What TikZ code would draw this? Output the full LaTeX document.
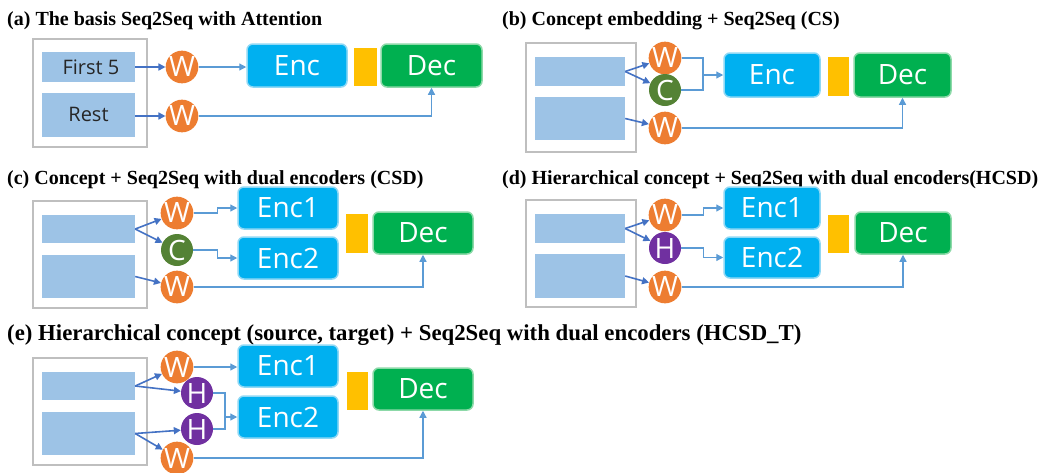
\documentclass[tikz,border=0pt]{standalone}
\usepackage{fontspec}
\setmainfont{Liberation Serif}
\newfontfamily\boxfont{Open Sans}
\usepackage{tikz}
\usetikzlibrary{arrows.meta, positioning, calc}
\definecolor{framegray}{HTML}{BFBFBF}
\definecolor{segblue}{HTML}{9DC3E6}
\definecolor{worange}{HTML}{ED7D31}
\definecolor{cgreen}{HTML}{548235}
\definecolor{hpurple}{HTML}{7030A0}
\definecolor{encblue}{HTML}{00B0F0}
\definecolor{encedge}{HTML}{8FD8F5}
\definecolor{decgreen}{HTML}{00B050}
\definecolor{decedge}{HTML}{8CD9A8}
\definecolor{attyellow}{HTML}{FFC000}
\definecolor{arrdark}{HTML}{4472C4}
\definecolor{arrlight}{HTML}{5B9BD5}

\begin{document}
\begin{tikzpicture}[x=1pt, y=-1pt, >={Triangle[length=7pt,width=7pt]},
    paneltitle/.style={anchor=base west, inner sep=0, font=\fontsize{20}{22}\selectfont\bfseries},
    inbox/.style={draw=framegray, line width=2, fill=white, inner sep=0},
    seg/.style={fill=segblue, inner sep=0, text=black!85, font=\boxfont\fontsize{20}{22}\selectfont},
    circ/.style={circle, minimum size=32, inner sep=0, text=white, font=\boxfont\fontsize{28}{28}\selectfont},
    wn/.style={circ, fill=worange},
    cn/.style={circ, fill=cgreen},
    hn/.style={circ, fill=hpurple},
    enc/.style={rounded corners=6, fill=encblue, draw=encedge, line width=1.5, inner sep=0, text=white, font=\boxfont\fontsize{28}{28}\selectfont},
    dec/.style={enc, fill=decgreen, draw=decedge},
    att/.style={fill=attyellow, inner sep=0},
    inarr/.style={->, draw=arrdark, line width=1.6},
    outarr/.style={->, draw=arrlight, line width=1.2},
    outline/.style={draw=arrlight, line width=1.2}]
\useasboundingbox (0,0) rectangle (1042,472);

% (a) basis
\node[paneltitle] (a-t) at (7,25) {(a) The basis Seq2Seq with Attention};
\node[inbox, minimum width=114, minimum height=108] (a-box) at (90,93) {};
\node[seg, minimum width=93, minimum height=30] (a-r1) at (88.5,67) {\hspace*{5pt}First 5};
\node[seg, minimum width=93, minimum height=44] (a-r2) at (88.5,114.5) {Rest};
\node[wn] (a-w1) at (182,67) {W};
\node[wn] (a-w2) at (182,116) {W};
\node[enc, minimum width=100, minimum height=43] (a-enc) at (297,65.5) {Enc};
\node[att, minimum width=23, minimum height=38] (a-att) at (365.5,67) {};
\node[dec, minimum width=101, minimum height=43] (a-dec) at (431.5,65.5) {Dec};
\draw[inarr] (a-r1.east) -- (a-w1);
\draw[inarr] (a-r2.east |- a-w2) -- (a-w2);
\draw[outarr] (a-w1) -- (a-w1 -| a-enc.west);
\draw[outarr] (a-w2) -| (a-dec.south);

% (b) CS
\node[paneltitle] (b-t) at (502,25) {(b) Concept embedding + Seq2Seq (CS)};
\node[inbox, minimum width=110, minimum height=109] (b-box) at (581,97.5) {};
\node[seg, minimum width=90, minimum height=29] (b-r1) at (580,71.5) {};
\node[seg, minimum width=90, minimum height=43] (b-r2) at (580,118.5) {};
\node[wn] (b-w1) at (665,58) {W};
\node[cn] (b-c) at (665,90) {C};
\node[wn] (b-w2) at (665,128) {W};
\node[enc, minimum width=96, minimum height=44] (b-enc) at (772,75) {Enc};
\node[att, minimum width=21, minimum height=39] (b-att) at (838.5,76.5) {};
\node[dec, minimum width=97, minimum height=44] (b-dec) at (902.5,75) {Dec};
\coordinate (b-j) at (703,75);
\draw[inarr] (b-r1.east) -- (b-w1);
\draw[inarr] (b-r1.east) -- (b-c);
\draw[inarr] (b-r2.east) -- (b-w2);
\draw[outline] (b-w1) -| (b-j) |- (b-c);
\draw[outarr] (b-j) -- (b-enc);
\draw[outarr] (b-w2) -| (b-dec.south);

% (c) CSD
\node[paneltitle] (c-t) at (7,184) {(c) Concept + Seq2Seq with dual encoders (CSD)};
\node[inbox, minimum width=114, minimum height=107] (c-box) at (90,254.5) {};
\node[seg, minimum width=93, minimum height=28] (c-r1) at (88.5,229) {};
\node[seg, minimum width=93, minimum height=43] (c-r2) at (88.5,276.5) {};
\node[wn] (c-w1) at (177,213) {W};
\node[cn] (c-c) at (177,250) {C};
\node[wn] (c-w2) at (177,287) {W};
\node[enc, minimum width=100, minimum height=42] (c-enc1) at (288,208) {Enc1};
\node[enc, minimum width=100, minimum height=42] (c-enc2) at (288,258) {Enc2};
\node[att, minimum width=22, minimum height=39] (c-att) at (357,233.5) {};
\node[dec, minimum width=100, minimum height=42] (c-dec) at (423,233) {Dec};
\draw[inarr] (c-r1.east) -- (c-w1);
\draw[inarr] (c-r1.east) -- (c-c);
\draw[inarr] (c-r2.east) -- (c-w2);
\draw[outarr] (c-w1.east) -- ++(24,0) |- (c-enc1.west);
\draw[outarr] (c-c.east) -- ++(24,0) |- (c-enc2.west);
\draw[outarr] (c-w2) -| (c-dec.south);

% (d) HCSD
\node[paneltitle] (d-t) at (502,184) {(d) Hierarchical concept + Seq2Seq with dual encoders(HCSD)};
\node[inbox, minimum width=110, minimum height=107] (d-box) at (581,253.5) {};
\node[seg, minimum width=90, minimum height=29] (d-r1) at (580,228.5) {};
\node[seg, minimum width=90, minimum height=44] (d-r2) at (580,276) {};
\node[wn] (d-w1) at (665,215) {W};
\node[hn] (d-h) at (665,248) {H};
\node[wn] (d-w2) at (665,287) {W};
\node[enc, minimum width=96, minimum height=42] (d-enc1) at (772,208) {Enc1};
\node[enc, minimum width=96, minimum height=41] (d-enc2) at (772,257.5) {Enc2};
\node[att, minimum width=21, minimum height=38] (d-att) at (838.5,234) {};
\node[dec, minimum width=96, minimum height=42] (d-dec) at (903,233) {Dec};
\draw[inarr] (d-r1.east) -- (d-w1);
\draw[inarr] (d-r1.east) -- (d-h);
\draw[inarr] (d-r2.east) -- (d-w2);
\draw[outarr] (d-w1.east) -- ++(22,0) |- (d-enc1.west);
\draw[outarr] (d-h.east) -- ++(22,0) |- (d-enc2.west);
\draw[outarr] (d-w2) -| (d-dec.south);

% (e) HCSD_T
\node[paneltitle, font=\fontsize{22.8}{24}\selectfont\bfseries] (e-t) at (7,340) {(e) Hierarchical concept (source, target) + Seq2Seq with dual encoders (HCSD\_T)};
\node[inbox, minimum width=114, minimum height=107] (e-box) at (90,411.5) {};
\node[seg, minimum width=93, minimum height=28] (e-r1) at (88.5,386) {};
\node[seg, minimum width=93, minimum height=43] (e-r2) at (88.5,433.5) {};
\node[wn] (e-w1) at (177,367) {W};
\node[hn] (e-h1) at (197,393) {H};
\node[hn] (e-h2) at (197,429) {H};
\node[wn] (e-w2) at (177,458) {W};
\node[enc, minimum width=100, minimum height=42] (e-enc1) at (288,366) {Enc1};
\node[enc, minimum width=100, minimum height=42] (e-enc2) at (288,417) {Enc2};
\node[att, minimum width=21, minimum height=38] (e-att) at (357.5,391) {};
\node[dec, minimum width=100, minimum height=42] (e-dec) at (423,389) {Dec};
\coordinate (e-j) at (225,417);
\draw[inarr] (e-r1.east) -- (e-w1);
\draw[inarr] (e-r1.east) -- (e-h1);
\draw[inarr] (e-r2.east) -- (e-h2);
\draw[inarr] (e-r2.east) -- (e-w2);
\draw[outarr] (e-w1) -- (e-w1 -| e-enc1.west);
\draw[outline] (e-h1) -| (e-j) |- (e-h2);
\draw[outarr] (e-j) -- (e-enc2);
\draw[outarr] (e-w2) -| (e-dec.south);
\end{tikzpicture}
\end{document}
